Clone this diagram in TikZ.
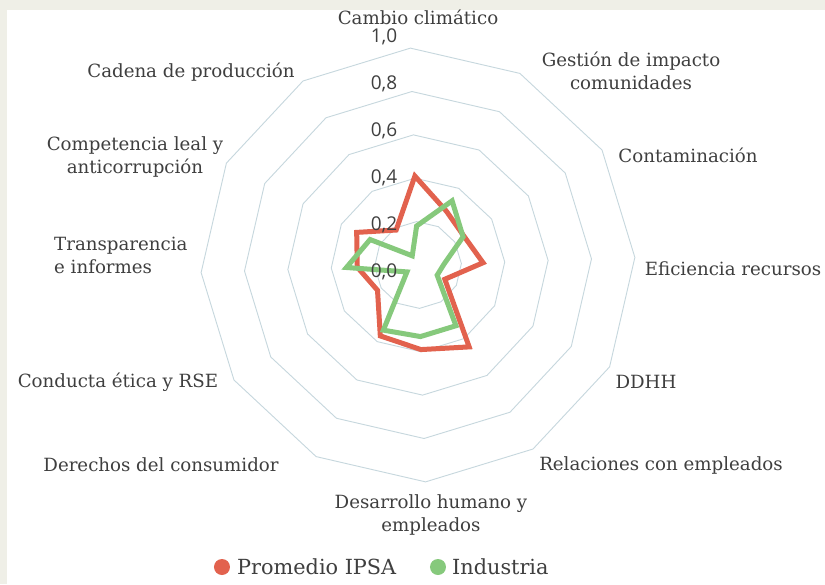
\documentclass[tikz,border=0pt]{standalone}
\usepackage{fontspec}
\setmainfont{DejaVu Serif}
\newfontfamily\numfont{Open Sans}
\usepackage{tikz}

\definecolor{ipsared}{HTML}{E2624E}
\definecolor{indgreen}{HTML}{86C97C}
\definecolor{ringgray}{HTML}{C6D7DD}
\definecolor{bgbeige}{HTML}{EFEFE7}
\definecolor{txtgray}{HTML}{3F3F3F}

\begin{document}
\begin{tikzpicture}[x=1pt, y=1pt,
		ring/.style={draw=ringgray, line width=0.9pt},
		serie/.style={line width=5pt, line join=miter},
		lab/.style={text=txtgray, font=\fontsize{18.2}{23}\selectfont, align=center, inner sep=0pt},
		num/.style={text=txtgray, font=\numfont\fontsize{19}{19}\selectfont, inner sep=0pt},
		leg/.style={text=txtgray, font=\fontsize{20.8}{24}\selectfont, inner sep=0pt, anchor=west},
		dot/.style={circle, inner sep=0pt, minimum size=16pt}]
		\fill[bgbeige] (-418, 265) rectangle (407, -319);
		\fill[white] (-411, 255) rectangle (407, -319);
		\useasboundingbox (-418, 265) rectangle (407, -319);

		\foreach \k in {1, 2, 3, 4, 5} {
			\draw[ring] (92:{43.4*\k}) \foreach \i in {1, ..., 11} { -- ({92-30*\i}:{43.4*\k}) } -- cycle;
		}

		\foreach \v [count=\i from 0] in {0.41, 0.28, 0.25, 0.30, 0.14, 0.445, 0.39, 0.37, 0.22, 0.28, 0.32, 0.19}
			\coordinate (p\i) at ({92-30*\i}:{217*\v});
		\foreach \v [count=\i from 0] in {0.18, 0.335, 0.245, 0.12, 0.10, 0.33, 0.33, 0.34, 0.06, 0.33, 0.25, 0.05}
			\coordinate (g\i) at ({92-30*\i}:{217*\v});
		\draw[serie, draw=ipsared] (p0) -- (p1) -- (p2) -- (p3) -- (p4) -- (p5) -- (p6) -- (p7) -- (p8) -- (p9) -- (p10) -- (p11) -- cycle;
		\draw[serie, draw=indgreen] (g0) -- (g1) -- (g2) -- (g3) -- (g4) -- (g5) -- (g6) -- (g7) -- (g8) -- (g9) -- (g10) -- (g11) -- cycle;

		\foreach \lab [count=\k from 0] in {{0,0}, {0,2}, {0,4}, {0,6}, {0,8}, {1,0}}
			\node[num] (v\k) at (-34, {47*\k-7}) {\lab};

		\node[lab] (cambio) at (0, 248) {Cambio climático};
		\node[lab] (gestion) at (213, 194) {Gestión de impacto\\comunidades};
		\node[lab] (contam) at (270, 110) {Contaminación};
		\node[lab] (eficiencia) at (315, -4) {Eficiencia recursos};
		\node[lab] (ddhh) at (228, -117) {DDHH};
		\node[lab] (relaciones) at (243, -200) {Relaciones con empleados};
		\node[lab] (desarrollo) at (13, -250) {Desarrollo humano y\\empleados};
		\node[lab] (derechos) at (-257, -200) {Derechos del consumidor};
		\node[lab] (conducta) at (-300, -117) {Conducta ética y RSE};
		\node[lab, anchor=west, align=left] (transp) at (-364, 10) {Transparencia\\e informes};
		\node[lab] (competencia) at (-283, 108) {Competencia leal y\\anticorrupción};
		\node[lab] (cadena) at (-227, 193) {Cadena de producción};

		\node[dot, fill=ipsared] (ipsadot) at (-196, -302) {};
		\node[leg] (ipsatxt) at (-181, -302) {Promedio IPSA};
		\node[dot, fill=indgreen] (inddot) at (20, -302) {};
		\node[leg] (indtxt) at (34, -302) {Industria};
	\end{tikzpicture}
\end{document}
